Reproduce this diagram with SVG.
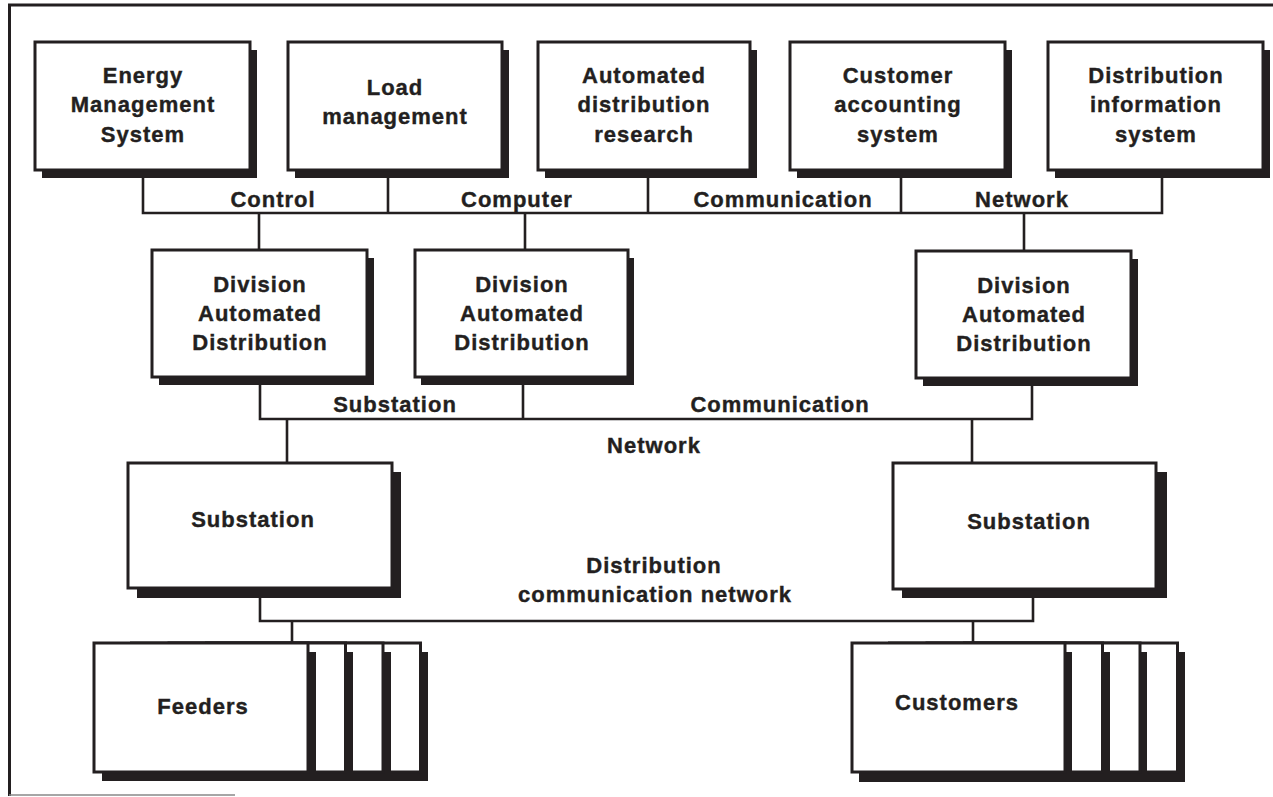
<svg xmlns="http://www.w3.org/2000/svg" width="1273" height="797" viewBox="0 0 1273 797">
<defs>
<style>
.box{fill:#fff;stroke:#231f20;stroke-width:3}
.sh{fill:#231f20}
.ln{fill:none;stroke:#231f20;stroke-width:2.6}
text{font-family:"Liberation Sans",Arial,Helvetica,sans-serif;font-weight:bold;font-size:22px;letter-spacing:1px;fill:#231f20;stroke:#231f20;stroke-width:0.4;text-anchor:middle}
</style>
</defs>
<rect width="1273" height="797" fill="#fff"/>
<g id="frame">
<path d="M9.5 796 V5 H1273" fill="none" stroke="#231f20" stroke-width="3"/>
<path d="M9 795 H235" fill="none" stroke="#888" stroke-width="1.5"/>
</g>
<g id="connectors">
<path class="ln" d="M143 178 V213 H1162 V178 M388 178 V213 M648 178 V213 M901 178 V213"/>
<path class="ln" d="M259 213 V250 M525 213 V250 M1024 213 V251"/>
<path class="ln" d="M260 385 V419 H1032 V386 M523 385 V419"/>
<path class="ln" d="M287 419 V463 M972 419 V463"/>
<path class="ln" d="M260 598 V621 H1033 V598"/>
<path class="ln" d="M292 621 V643 M973 621 V643"/>
</g>
<g id="bus-labels">
<text x="273" y="207">Control</text>
<text x="517" y="207">Computer</text>
<text x="783" y="207">Communication</text>
<text x="1022" y="207">Network</text>
<text x="395" y="412">Substation</text>
<text x="780" y="412">Communication</text>
<text x="654" y="453">Network</text>
<text x="654" y="573">Distribution</text>
<text x="655" y="602">communication network</text>
</g>
<g id="ems">
<rect class="sh" x="42" y="50" width="215" height="128"/>
<rect class="box" x="35" y="42" width="215" height="128"/>
<text x="143" y="83">Energy</text><text x="143" y="112">Management</text><text x="143" y="142">System</text>
</g>
<g id="load">
<rect class="sh" x="295" y="50" width="214" height="128"/>
<rect class="box" x="288" y="42" width="214" height="128"/>
<text x="395" y="95">Load</text><text x="395" y="124">management</text>
</g>
<g id="adr">
<rect class="sh" x="545" y="50" width="212" height="128"/>
<rect class="box" x="538" y="42" width="212" height="128"/>
<text x="644" y="83">Automated</text><text x="644" y="112">distribution</text><text x="644" y="142">research</text>
</g>
<g id="cas">
<rect class="sh" x="797" y="50" width="215" height="128"/>
<rect class="box" x="790" y="42" width="215" height="128"/>
<text x="898" y="83">Customer</text><text x="898" y="112">accounting</text><text x="898" y="142">system</text>
</g>
<g id="dis">
<rect class="sh" x="1055" y="50" width="215" height="128"/>
<rect class="box" x="1048" y="42" width="215" height="128"/>
<text x="1156" y="83">Distribution</text><text x="1156" y="112">information</text><text x="1156" y="142">system</text>
</g>
<g id="dad1">
<rect class="sh" x="159" y="258" width="215" height="127"/>
<rect class="box" x="152" y="250" width="215" height="127"/>
<text x="260" y="292">Division</text><text x="260" y="321">Automated</text><text x="260" y="350">Distribution</text>
</g>
<g id="dad2">
<rect class="sh" x="421" y="258" width="213" height="127"/>
<rect class="box" x="415" y="250" width="213" height="127"/>
<text x="522" y="292">Division</text><text x="522" y="321">Automated</text><text x="522" y="350">Distribution</text>
</g>
<g id="dad3">
<rect class="sh" x="923" y="259" width="215" height="127"/>
<rect class="box" x="916" y="251" width="215" height="127"/>
<text x="1024" y="293">Division</text><text x="1024" y="322">Automated</text><text x="1024" y="351">Distribution</text>
</g>
<g id="sub1">
<rect class="sh" x="137" y="472" width="264" height="126"/>
<rect class="box" x="128" y="463" width="264" height="125"/>
<text x="253" y="527">Substation</text>
</g>
<g id="sub2">
<rect class="sh" x="902" y="472" width="265" height="126"/>
<rect class="box" x="893" y="463" width="263" height="126"/>
<text x="1029" y="529">Substation</text>
</g>
<g id="feeders">
<rect class="sh" x="214" y="652" width="214" height="129"/>
<rect class="box" x="206.5" y="643" width="214" height="129"/>
<rect class="sh" x="177" y="652" width="214" height="129"/>
<rect class="box" x="169" y="643" width="214" height="129"/>
<rect class="sh" x="139" y="652" width="214" height="129"/>
<rect class="box" x="131.5" y="643" width="214" height="129"/>
<rect class="sh" x="102" y="652" width="214" height="129"/>
<rect class="box" x="94" y="643" width="214" height="129"/>
<text x="203" y="714">Feeders</text>
</g>
<g id="customers">
<rect class="sh" x="972" y="652" width="213" height="130"/>
<rect class="box" x="964.5" y="643" width="213" height="129"/>
<rect class="sh" x="934" y="652" width="213" height="130"/>
<rect class="box" x="927" y="643" width="213" height="129"/>
<rect class="sh" x="897" y="652" width="213" height="130"/>
<rect class="box" x="889.5" y="643" width="213" height="129"/>
<rect class="sh" x="859" y="652" width="213" height="130"/>
<rect class="box" x="852" y="643" width="213" height="129"/>
<text x="957" y="710">Customers</text>
</g>
</svg>
